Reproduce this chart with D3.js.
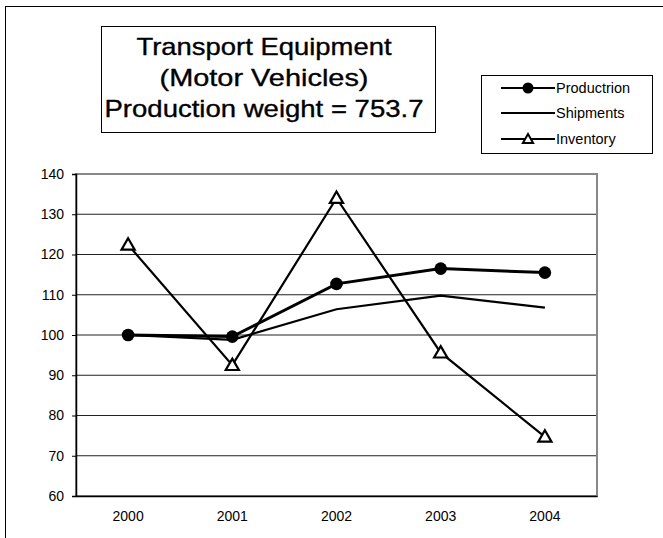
<!DOCTYPE html>
<html>
<head>
<meta charset="utf-8">
<script src="https://cdn.jsdelivr.net/npm/d3@7"></script>
<style>
  body { margin: 0; background: #fff; }
  text { font-family: "Liberation Sans", Arial, sans-serif; fill: #000; }
</style>
</head>
<body>
<svg id="chart" width="663" height="538"></svg>
<script>
// data
const years = ["2000", "2001", "2002", "2003", "2004"];
const production = [100, 99.6, 112.7, 116.5, 115.5];
const shipments = [100, 98.8, 106.4, 109.8, 106.8];
const inventory = [122.4, 92.5, 134, 95.6, 74.7];
const yTicks = [60, 70, 80, 90, 100, 110, 120, 130, 140];
const titleLines = ["Transport Equipment", "(Motor Vehicles)", "Production weight = 753.7"];
const legendNames = ["Productrion", "Shipments", "Inventory"];

const svg = d3.select("#chart");

// outer frame (right and bottom edges fall outside the picture)
svg.append("rect")
    .attr("x", 5.5).attr("y", 6.5)
    .attr("width", 700).attr("height", 600)
    .attr("fill", "none").attr("stroke", "#000");

let plot = { left: 76, right: 597, top: 174, bottom: 496 };

let x = d3.scaleBand().domain(years).range([plot.left, plot.right]);
let cx = d => x(d) + x.bandwidth() / 2;
let y = d3.scaleLinear().domain([60, 140]).range([plot.bottom, plot.top]);

// gridlines
svg.append("g")
    .selectAll("line")
    .data(yTicks.slice(1, -1))
    .enter()
    .append("line")
    .attr("x1", plot.left).attr("x2", plot.right)
    .attr("y1", d => y(d)).attr("y2", d => y(d))
    .attr("stroke", "#222").attr("stroke-width", 1.2);

// plot border
svg.append("rect")
    .attr("x", plot.left).attr("y", plot.top)
    .attr("width", plot.right - plot.left).attr("height", plot.bottom - plot.top)
    .attr("fill", "none").attr("stroke", "#888").attr("stroke-width", 2);

// y axis
let yAxis = svg.append("g")
    .attr("transform", "translate(" + plot.left + ",0)")
    .call(d3.axisLeft(y).tickValues(yTicks).tickSize(4).tickPadding(8));
yAxis.select(".domain").attr("stroke", "#000").attr("stroke-width", 1.5);
yAxis.selectAll(".tick line").attr("stroke", "#000");
yAxis.selectAll("text")
    .style("font-family", "Liberation Sans, Arial, sans-serif")
    .style("font-size", "14px");

// x axis
let xAxis = svg.append("g")
    .attr("transform", "translate(0," + plot.bottom + ")")
    .call(d3.axisBottom(x).tickSize(0).tickPadding(15));
xAxis.select(".domain").attr("stroke", "#000").attr("stroke-width", 1.5);
xAxis.selectAll("text")
    .style("font-family", "Liberation Sans, Arial, sans-serif")
    .style("font-size", "14px");

// lines
let lineOf = values => d3.line()
    .x((d, i) => cx(years[i]))
    .y(d => y(d))(values);

svg.append("path").attr("d", lineOf(shipments))
    .attr("fill", "none").attr("stroke", "#000").attr("stroke-width", 2.2);
svg.append("path").attr("d", lineOf(inventory))
    .attr("fill", "none").attr("stroke", "#000").attr("stroke-width", 2.2);
svg.append("path").attr("d", lineOf(production))
    .attr("fill", "none").attr("stroke", "#000").attr("stroke-width", 3);

let triangle = d3.symbol().type(d3.symbolTriangle).size(75);

svg.append("g")
    .selectAll("circle")
    .data(production)
    .enter()
    .append("circle")
    .attr("cx", (d, i) => cx(years[i]))
    .attr("cy", d => y(d))
    .attr("r", 6.3)
    .attr("fill", "#000");

svg.append("g")
    .selectAll("path")
    .data(inventory)
    .enter()
    .append("path")
    .attr("d", triangle)
    .attr("transform", (d, i) => "translate(" + cx(years[i]) + "," + (y(d) + 1) + ")")
    .attr("fill", "#fff").attr("stroke", "#000").attr("stroke-width", 2.2);

// title box
svg.append("rect")
    .attr("x", 101.5).attr("y", 26.5)
    .attr("width", 334).attr("height", 106)
    .attr("fill", "#fff").attr("stroke", "#000");

let titleWidths = [255, 209, 319];
svg.append("g")
    .selectAll("text")
    .data(titleLines)
    .enter()
    .append("text")
    .attr("x", 264)
    .attr("y", (d, i) => 55 + i * 31)
    .attr("text-anchor", "middle")
    .attr("textLength", (d, i) => titleWidths[i])
    .attr("lengthAdjust", "spacingAndGlyphs")
    .style("font-size", "24px")
    .style("stroke", "#000")
    .style("stroke-width", 0.35)
    .text(d => d);

// legend
svg.append("rect")
    .attr("x", 481.5).attr("y", 75.5)
    .attr("width", 171).attr("height", 78)
    .attr("fill", "#fff").attr("stroke", "#000");

let legendRows = svg.append("g")
    .selectAll("g")
    .data(legendNames)
    .enter()
    .append("g")
    .attr("transform", (d, i) => "translate(0," + [88, 113, 139][i] + ")");

legendRows.append("line")
    .attr("x1", 501).attr("x2", 555)
    .attr("stroke", "#000").attr("stroke-width", 2.2);

legendRows.append("text")
    .attr("x", 556)
    .attr("dy", "0.35em")
    .style("font-size", "14.5px")
    .text(d => d);

legendRows.filter((d, i) => i === 0)
    .append("circle")
    .attr("cx", 528).attr("r", 5.5).attr("fill", "#000");

legendRows.filter((d, i) => i === 2)
    .append("path")
    .attr("d", d3.symbol().type(d3.symbolTriangle).size(45))
    .attr("transform", "translate(528,1)")
    .attr("fill", "#fff").attr("stroke", "#000").attr("stroke-width", 2);
</script>
</body>
</html>
